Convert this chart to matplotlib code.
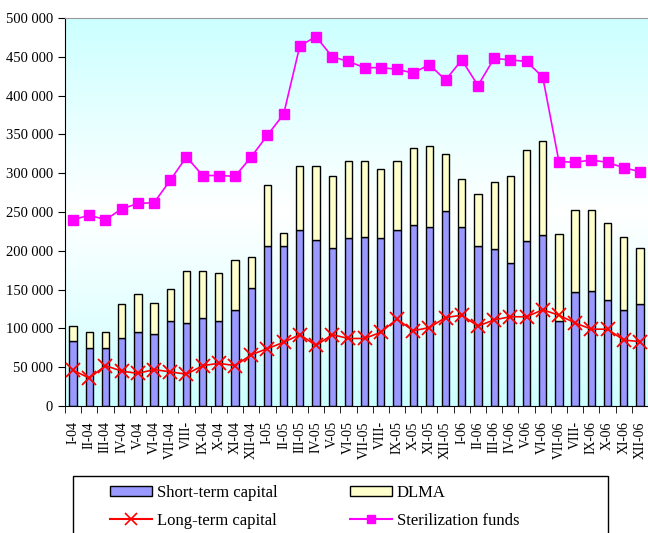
import numpy as np
import matplotlib
matplotlib.use("Agg")
import matplotlib.pyplot as plt
from matplotlib.patches import Patch, Rectangle
from matplotlib.lines import Line2D
from matplotlib.colors import LinearSegmentedColormap

months = ["I-04", "II-04", "III-04", "IV-04", "V-04", "VI-04", "VII-04", "VIII-", "IX-04", "X-04", "XI-04", "XII-04",
          "I-05", "II-05", "III-05", "IV-05", "V-05", "VI-05", "VII-05", "VIII-", "IX-05", "X-05", "XI-05", "XII-05",
          "I-06", "II-06", "III-06", "IV-06", "V-06", "VI-06", "VII-06", "VIII-", "IX-06", "X-06", "XI-06", "XII-06"]

short_term = [83700, 75000, 75000, 87000, 95000, 93000, 109000, 107000, 113000, 109000, 124000, 152000,
              206000, 206000, 227000, 214000, 204000, 216000, 218000, 216000, 227000, 233000, 231000, 251000,
              231000, 206000, 202000, 184000, 212000, 220000, 109000, 147000, 148000, 137000, 124000, 131000]

total_bar = [103000, 95000, 95000, 131000, 144000, 133000, 151000, 174000, 174000, 171000, 188000, 192000,
             285000, 223000, 309000, 309000, 296000, 316000, 316000, 306000, 316000, 332000, 335000, 325000,
             293000, 273000, 289000, 297000, 330000, 342000, 222000, 253000, 253000, 236000, 218000, 203000]

dlma = [t - s for t, s in zip(total_bar, short_term)]

long_term = [46000, 36000, 52000, 45000, 42000, 47000, 44000, 41000, 52000, 55000, 52000, 66000,
             74000, 82000, 92000, 78000, 92000, 87000, 87000, 95000, 112000, 97000, 101000, 114000,
             117000, 103000, 111000, 115000, 115000, 124000, 117000, 107000, 99000, 99000, 85000, 83000]

sterilization = [240000, 246000, 240000, 254000, 261000, 262000, 291000, 321000, 297000, 297000, 296000, 321000,
                 349000, 376000, 464000, 476000, 450000, 444000, 436000, 436000, 434000, 429000, 440000, 420000,
                 446000, 413000, 448000, 446000, 444000, 424000, 315000, 314000, 317000, 314000, 307000, 302000]

yticks = [0, 50000, 100000, 150000, 200000, 250000, 300000, 350000, 400000, 450000, 500000]
ytick_labels = ["0", "50 000", "100 000", "150 000", "200 000", "250 000", "300 000", "350 000", "400 000", "450 000", "500 000"]

plt.rcParams['font.family'] = ['Liberation Serif', 'DejaVu Serif']

W, H = 648, 533
fig = plt.figure(figsize=(6.48, 5.33), dpi=100)
ax = fig.add_axes([65/W, (H-406)/H, 1 - 65/W, (406-18)/H])

x = np.arange(len(months))
n = len(months)

# background gradient
cmap = LinearSegmentedColormap.from_list("bg", ["#CCFFFF", "#FFFFFF", "#CCFFFF"])
grad = np.linspace(0, 1, 256).reshape(-1, 1)
ax.imshow(grad, aspect='auto', cmap=cmap, extent=[-0.5, n - 0.5, 0, 500000], origin='upper', zorder=0)

w = 0.45
ax.bar(x, short_term, width=w, color="#9999FF", edgecolor="black", linewidth=1, zorder=2)
ax.bar(x, dlma, width=w, bottom=short_term, color="#FFFFCC", edgecolor="black", linewidth=1, zorder=2)
ax.plot(x, long_term, color="red", marker="x", markersize=10, markeredgewidth=1.3, linewidth=1.2, zorder=3)
ax.plot(x, sterilization, color="#FF00FF", marker="s", markersize=7, linewidth=1.2, zorder=3)

ax.set_xlim(-0.5, n - 0.5)
ax.set_ylim(0, 500000)
ax.set_yticks(yticks)
ax.set_yticklabels(ytick_labels, fontsize=10.5)
ax.set_xticks(x)
ax.set_xticklabels(months, rotation=90, fontsize=10)
ax.tick_params(axis='x', length=0, pad=11)
ax.set_xticks(np.arange(-0.5, n, 1), minor=True)
ax.tick_params(axis='x', which='minor', length=5, direction='out', color='black')
ax.tick_params(axis='y', length=5, direction='out')

ax.spines['top'].set_color('#999999')
ax.spines['right'].set_visible(False)
ax.spines['left'].set_color('black')
ax.spines['bottom'].set_color('black')

# legend frame (bottom edge falls outside the figure as in the reference)
fig.patches.append(Rectangle((73/W, -0.05), (608-73)/W, 0.05 + 1 - 476/H,
                             transform=fig.transFigure, facecolor='white', edgecolor='black',
                             linewidth=1, zorder=0))

h_short = Patch(facecolor="#9999FF", edgecolor="black", label="Short-term capital")
h_dlma = Patch(facecolor="#FFFFCC", edgecolor="black", label="DLMA")
h_long = Line2D([0], [0], color="red", marker="x", markersize=9, markeredgewidth=1.2, label="Long-term capital")
h_ster = Line2D([0], [0], color="#FF00FF", marker="s", markersize=6, label="Sterilization funds")

common = dict(loc='upper left', fontsize=12, frameon=False, handlelength=2.5, handleheight=0.5,
              handletextpad=0.3, borderaxespad=0, borderpad=0, labelspacing=0.7)
leg1 = fig.legend(handles=[h_short, h_long], bbox_to_anchor=(110/W, 1 - 485/H), **common)
leg2 = fig.legend(handles=[h_dlma, h_ster], bbox_to_anchor=(350/W, 1 - 485/H), **common)

fig.savefig("out.png", dpi=100)
